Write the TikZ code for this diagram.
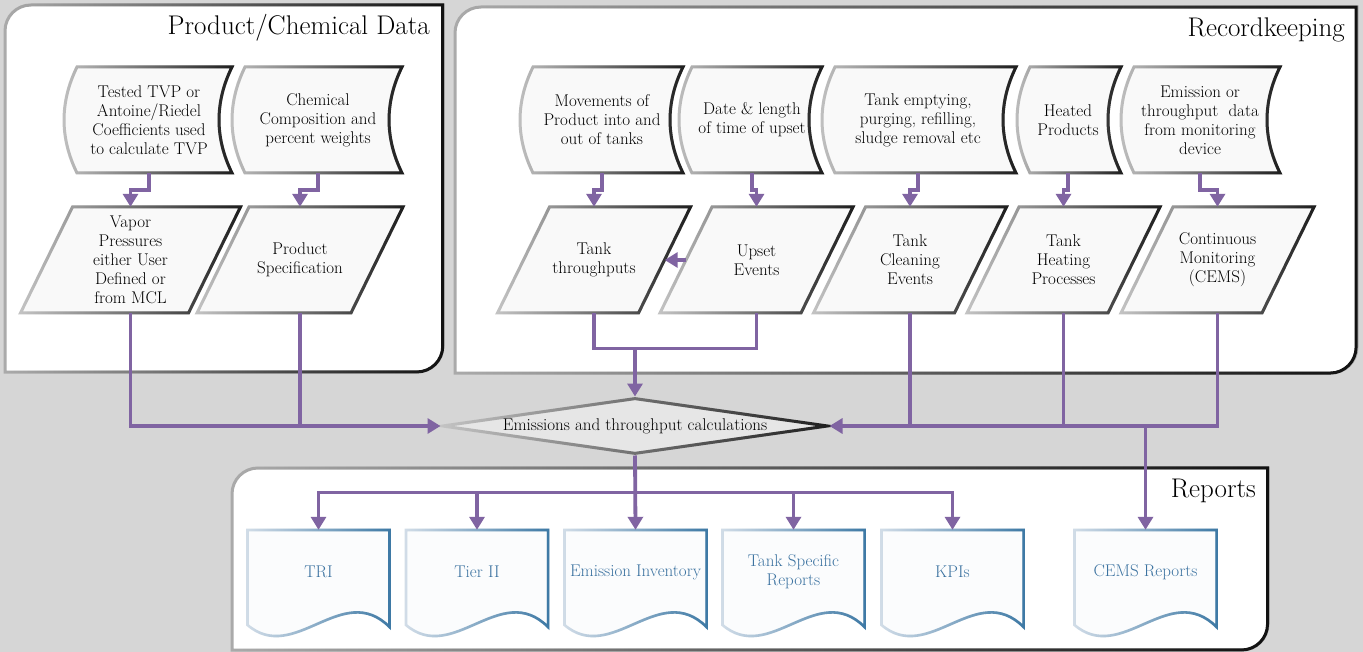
\documentclass[tikz,border=0pt]{standalone}
\usetikzlibrary{arrows.meta,shapes.geometric,fadings}
\definecolor{bggray}{HTML}{D6D6D6}
\definecolor{panellight}{HTML}{ABABAB}
\definecolor{paneldark}{HTML}{111111}
\definecolor{boxlight}{HTML}{C4C4C4}
\definecolor{boxdark}{HTML}{1E1E1E}
\definecolor{boxfill}{HTML}{F9F9F9}
\definecolor{diafill}{HTML}{E6E6E6}
\definecolor{doclight}{HTML}{D2DDE8}
\definecolor{docdark}{HTML}{3D79A5}
\definecolor{docfill}{HTML}{FBFCFD}
\definecolor{doctext}{HTML}{3B72A0}
\definecolor{flowpurple}{HTML}{8064A2}
\tikzfading[name=fade to right, left color=transparent!100, right color=transparent!0]
\newcommand\boxtextfont{\fontsize{17}{19}\selectfont}
\newcommand\titlefont{\fontsize{27}{30}\selectfont}

% panel: left, top, right, bottom; rounded top-left and bottom-right corners
\newcommand\panelshape[4]{%
  \draw[panel] (#1,#4) -- (#1,{#2+26}) .. controls (#1,{#2+11.6}) and ({#1+11.6},#2) .. ({#1+26},#2)
    -- (#3,#2) -- (#3,{#4-26}) .. controls (#3,{#4-11.6}) and ({#3-11.6},#4) .. ({#3-26},#4) -- cycle;}
% stored-data outline between two top corners
\newcommand\tapeshape[2]{%
  \draw[shapebox] (#1,67) -- (#2,67) .. controls ({#2-17.3},102) and ({#2-17.3},138) .. (#2,173)
    -- (#1,173) .. controls ({#1-17.3},138) and ({#1-17.3},102) .. (#1,67) -- cycle;}
% slanted data box: centre x, edge length
\newcommand\parashape[2]{%
  \draw[shapebox] ({#1-#2/2+26},207) -- ({#1+#2/2+26},207) -- ({#1+#2/2-26},313)
    -- ({#1-#2/2-26},313) -- cycle;}
% document outline around a centre x
\newcommand\docshape[1]{%
  \draw[docbox] ({#1-71},530) -- ({#1+71},530) -- ({#1+71},627)
    .. controls ({#1+24},580) and ({#1-24},665) .. ({#1-71},625) -- cycle;}

\begin{document}
\begin{tikzpicture}[x=1pt,y=-1pt,
  panel/.style={fill=white, draw=panellight, line width=3pt,
    postaction={draw=paneldark, line width=3pt, path fading=fade to right}},
  shapebox/.style={fill=boxfill, draw=boxlight, line width=3pt,
    postaction={draw=boxdark, line width=3pt, path fading=fade to right}},
  docbox/.style={fill=docfill, draw=doclight, line width=2.6pt,
    postaction={draw=docdark, line width=2.6pt, path fading=fade to right}},
  tapetxt/.style={align=center, inner sep=0pt, minimum height=106pt, font=\boxtextfont},
  paratxt/.style={align=center, inner sep=0pt, minimum height=106pt, font=\boxtextfont},
  dia/.style={diamond, aspect=6.9, fill=diafill, draw=boxlight, line width=3pt,
    postaction={draw=boxdark, line width=3pt, path fading=fade to right},
    minimum width=386pt, minimum height=56pt, inner sep=0pt, font=\boxtextfont},
  doctxt/.style={align=center, inner sep=0pt, minimum height=84pt, text=doctext, font=\boxtextfont},
  title/.style={inner sep=0pt, font=\titlefont, anchor=base east},
  con/.style={draw=flowpurple, line width=3.8pt},
  arr/.style={con, -{Triangle[width=15pt,length=13pt]}}
]
\useasboundingbox (0,0) rectangle (1363,652);
\fill[bggray] (0,0) rectangle (1363,652);

% group panels
\panelshape{5}{5}{443}{372}
\panelshape{455}{7}{1357}{373}
\panelshape{232}{468}{1268}{650}
\node[title] (ttlprod) at (430,35) {Product/Chemical Data};
\node[title] (ttlrec) at (1345,37) {Recordkeeping};
\node[title] (ttlrep) at (1256,497) {Reports};

% stored data inputs
\tapeshape{77}{232}
\node[tapetxt] (t1) at (149,120) {Tested TVP or\\Antoine/Riedel\\Coefficients used\\to calculate TVP};
\tapeshape{245}{402}
\node[tapetxt] (t2) at (318,120) {Chemical\\Composition and\\percent weights};
\tapeshape{533}{683}
\node[tapetxt] (t3) at (602,120) {Movements of\\Product into and\\out of tanks};
\tapeshape{692}{822}
\node[tapetxt] (t4) at (752,120) {Date \& length\\of time of upset};
\tapeshape{835}{1016}
\node[tapetxt] (t5) at (918,120) {Tank emptying,\\purging, refilling,\\sludge removal etc};
\tapeshape{1030}{1121}
\node[tapetxt] (t6) at (1068,120) {Heated\\Products};
\tapeshape{1134}{1280}
\node[tapetxt] (t7) at (1200,120) {Emission or\\throughput\ \ data\\from monitoring\\device};

% data records
\parashape{130.5}{168}
\node[paratxt, minimum width=168pt] (p1) at (130.5,260) {Vapor\\Pressures\\either User\\Defined or\\from MCL};
\parashape{300}{154}
\node[paratxt, minimum width=154pt] (p2) at (300,260) {Product\\Specification};
\parashape{594}{141}
\node[paratxt, minimum width=141pt] (q1) at (594,260) {Tank\\throughputs};
\parashape{756.5}{141}
\node[paratxt, minimum width=141pt] (q2) at (756.5,260) {Upset\\Events};
\parashape{910}{141}
\node[paratxt, minimum width=141pt] (q3) at (910,260) {Tank\\Cleaning\\Events};
\parashape{1063.5}{141}
\node[paratxt, minimum width=141pt] (q4) at (1063.5,260) {Tank\\Heating\\Processes};
\parashape{1217.5}{141}
\node[paratxt, minimum width=141pt] (q5) at (1217.5,260) {Continuous\\Monitoring\\(CEMS)};

% decision
\node[dia] (d) at (635,426) {Emissions and throughput calculations};

% reports
\docshape{318.5}
\node[doctxt] (tri) at (318.5,572) {TRI};
\docshape{477}
\node[doctxt] (tier) at (477,572) {Tier II};
\docshape{635.5}
\node[doctxt] (ei) at (635.5,572) {Emission Inventory};
\docshape{793.5}
\node[doctxt] (tsr) at (793.5,572) {Tank Specific\\Reports};
\docshape{952.5}
\node[doctxt] (kpi) at (952.5,572) {KPIs};
\docshape{1145.5}
\node[doctxt] (cems) at (1145.5,572) {CEMS Reports};

% inputs to records
\draw[arr] (t1.south) -- ++(0,17) -| (p1.north);
\draw[arr] (t2.south) -- ++(0,17) -| (p2.north);
\draw[arr] (t3.south) -- ++(0,17) -| (q1.north);
\draw[arr] (t4.south) -- ++(0,17) -| (q2.north);
\draw[arr] (t5.south) -- ++(0,17) -| (q3.north);
\draw[arr] (t6.south) -- ++(0,17) -| (q4.north);
\draw[arr] (t7.south) -- ++(0,17) -| (q5.north);
\draw[arr] (q2.west) -- (q1.east);

% records to the calculation
\draw[arr] (p1.south) |- (d.west);
\draw[con] (p2.south) -- (p2.south |- d.west);
\path (d.north) ++(0,-48) coordinate (jq);
\draw[con] (q1.south) |- (jq) -| (q2.south);
\draw[arr] (jq) -- (d.north);
\draw[arr] (q5.south) |- (d.east);
\draw[con] (q3.south) -- (q3.south |- d.east);
\draw[con] (q4.south) -- (q4.south |- d.east);
\draw[arr] (cems.north |- d.east) -- (cems.north);

% calculation to reports
\path (d.south) ++(0,37) coordinate (bus);
\draw[arr] (d.south) -- (ei.north);
\draw[arr] (bus) -| (tri.north);
\draw[arr] (bus) -| (kpi.north);
\draw[arr] (tier.north |- bus) -- (tier.north);
\draw[arr] (tsr.north |- bus) -- (tsr.north);
\end{tikzpicture}
\end{document}
